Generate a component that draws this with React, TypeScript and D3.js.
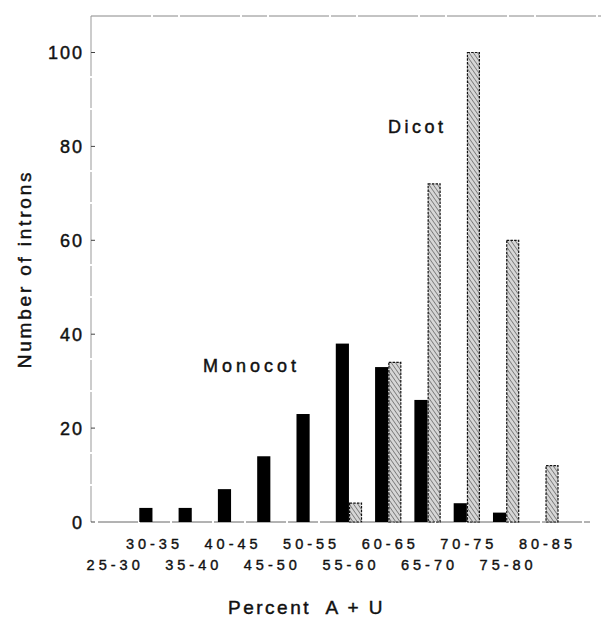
import React from "react";
import * as d3 from "d3";

const categories = ["25-30","30-35","35-40","40-45","45-50","50-55","55-60","60-65","65-70","70-75","75-80","80-85"];
const monocot = [0, 3, 3, 7, 14, 23, 38, 33, 26, 4, 2, 0];
const dicot = [0, 0, 0, 0, 0, 0, 4, 34, 72, 100, 60, 12];
const yTicks = [0, 20, 40, 60, 80, 100];
const series = ["Monocot", "Dicot"];

const W = 601, H = 618;
const FONT = "'Liberation Sans', Arial, Helvetica, sans-serif";
const TXT = { fill: "#111", stroke: "#111", strokeWidth: 0.45 };

export default function App() {
  const y = d3.scaleLinear().domain([0, 100]).range([522, 52.5]);
  const x = d3.scaleBand<string>().domain(categories).range([100, 558.6]).paddingInner(0.33).paddingOuter(0);
  const x1 = d3.scaleBand<string>().domain(series).range([0, x.bandwidth()]);

  return (
    <svg width={W} height={H} style={{ position: "absolute", left: 0, top: 0, background: "#fff" }} fontFamily={FONT}>
      <defs>
        <pattern id="hatch" patternUnits="userSpaceOnUse" width="3.5" height="3.5" patternTransform="rotate(-35)">
          <rect width="3.5" height="3.5" fill="#d6d6d6" />
          <line x1="0" y1="0" x2="0" y2="3.5" stroke="#444" strokeWidth="1.1" />
        </pattern>
      </defs>
      {/* frame */}
      <line x1={91} x2={601} y1={16} y2={16} stroke="#888" strokeWidth={1} strokeDasharray="60,2,25,2" />
      <line x1={91} x2={91} y1={16} y2={522} stroke="#999" strokeWidth={1} strokeDasharray="60,2,30,2" />
      <line x1={98} x2={590} y1={522} y2={522} stroke="#666" strokeWidth={1} strokeDasharray="40,2,30,2" />
      {/* y ticks */}
      {yTicks.map((t) => (
        <g key={t}>
          <line x1={91} x2={95} y1={y(t)} y2={y(t)} stroke="#444" strokeWidth={1} />
          <text x={84} y={y(t) + 6.5} textAnchor="end" fontSize={18} letterSpacing={2} {...TXT}>{t}</text>
        </g>
      ))}
      {/* bars */}
      {categories.map((c, i) => (
        <g key={c}>
          {monocot[i] > 0 && (
            <rect x={(x(c) ?? 0) + (x1("Monocot") ?? 0)} y={y(monocot[i])} width={x1.bandwidth()} height={y(0) - y(monocot[i])} fill="#000" />
          )}
          {dicot[i] > 0 && (
            <rect x={(x(c) ?? 0) + (x1("Dicot") ?? 0) + 0.6} y={y(dicot[i])} width={x1.bandwidth() - 1.2} height={y(0) - y(dicot[i])} fill="url(#hatch)" stroke="#111" strokeWidth={1.2} strokeDasharray="2.5,1.2" />
          )}
        </g>
      ))}
      {/* category labels */}
      {categories.map((c, i) => (
        <text key={c} x={(x(c) ?? 0) + x.bandwidth() / 2 + 2} y={i % 2 === 1 ? 549 : 570} textAnchor="middle" fontSize={14.5} letterSpacing={4} {...TXT} strokeWidth={0.4}>{c}</text>
      ))}
      {/* series labels */}
      <text x={388} y={133} fontSize={18} letterSpacing={3.5} {...TXT}>Dicot</text>
      <text x={203} y={372} fontSize={18} letterSpacing={4} {...TXT}>Monocot</text>
      {/* axis titles */}
      <text transform="translate(31,269) rotate(-90)" textAnchor="middle" fontSize={19} letterSpacing={2.8} {...TXT}>Number of introns</text>
      <text x={228} y={614} fontSize={19} letterSpacing={2.5} {...TXT} style={{ whiteSpace: "pre" }}>Percent  A + U</text>
    </svg>
  );
}
